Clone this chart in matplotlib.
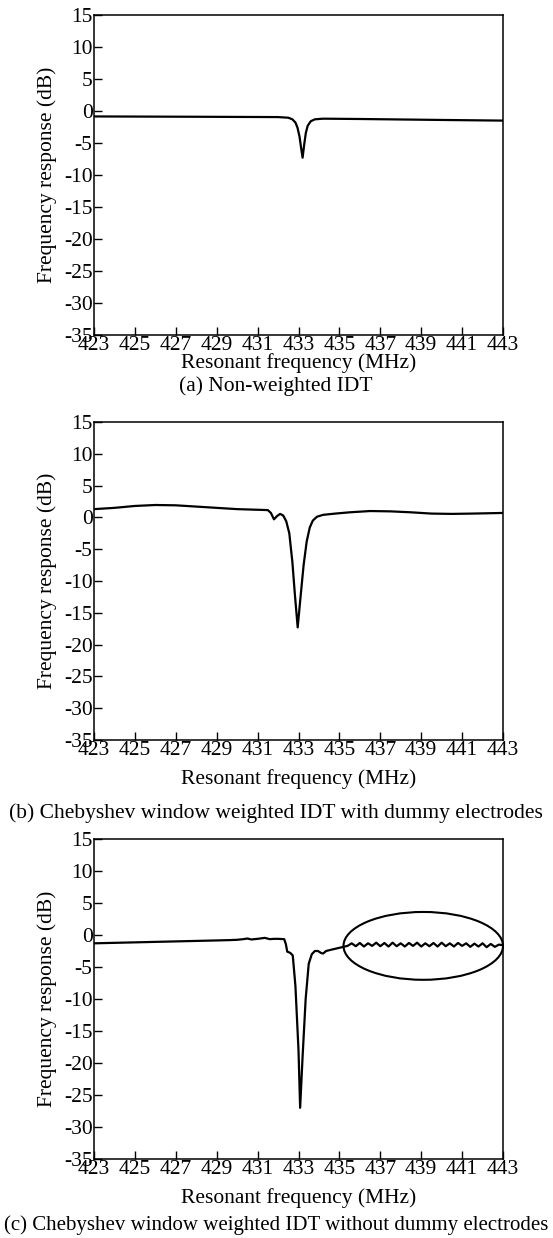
import numpy as np
import matplotlib
matplotlib.use("Agg")
import matplotlib.pyplot as plt
from matplotlib.patches import Ellipse

plt.rcParams['font.family'] = ['Liberation Serif', 'DejaVu Serif']
plt.rcParams['axes.unicode_minus'] = False

# (a) non-weighted IDT
fa = [423, 428, 432, 432.5, 432.7, 432.85, 432.95, 433.05, 433.12, 433.2,
      433.28, 433.36, 433.45, 433.6, 433.8, 434.2, 436, 440, 443]
ra = [-0.85, -0.9, -0.95, -1.05, -1.3, -1.8, -2.6, -4.0, -5.6, -7.3,
      -5.2, -3.4, -2.3, -1.6, -1.3, -1.2, -1.25, -1.4, -1.5]

# (b) Chebyshev, with dummy electrodes
fb = [423, 424, 425, 426, 427, 428, 429, 430, 431, 431.5, 431.65, 431.8,
      431.95, 432.1, 432.25, 432.4, 432.55, 432.7, 432.82, 432.96, 433.1,
      433.25, 433.4, 433.55, 433.7, 433.9, 434.2, 434.8, 435.5, 436.5,
      437.5, 438.5, 439.5, 440.5, 441.5, 443]
rb = [1.3, 1.5, 1.8, 1.95, 1.9, 1.7, 1.5, 1.3, 1.2, 1.15, 0.7, -0.3,
      0.2, 0.55, 0.3, -0.6, -2.5, -7.0, -12.0, -17.3, -12.5,
      -7.5, -3.8, -1.6, -0.5, 0.1, 0.4, 0.6, 0.8, 1.0,
      0.95, 0.8, 0.6, 0.55, 0.6, 0.7]

# (c) Chebyshev, without dummy electrodes
fc = [423, 425, 427, 429, 429.6, 430.0, 430.3, 430.5, 430.7, 431.0,
      431.35, 431.6, 431.8, 432.0, 432.3, 432.38, 432.45, 432.6, 432.72,
      432.85, 433.0, 433.08, 433.2, 433.35, 433.5, 433.65, 433.8, 433.95,
      434.1, 434.2, 434.35, 434.6, 435.0, 435.4]
rc = [-1.3, -1.15, -1.0, -0.85, -0.8, -0.75, -0.65, -0.55, -0.7, -0.6,
      -0.45, -0.65, -0.6, -0.6, -0.65, -1.4, -2.6, -2.8, -3.2,
      -8.0, -18.0, -27.0, -19.0, -10.0, -4.5, -3.0, -2.5, -2.5,
      -2.8, -2.9, -2.5, -2.3, -2.0, -1.7]
fc_ripple = [435.6, 435.8, 436.0, 436.2, 436.4, 436.6, 436.8, 437.0, 437.2,
             437.4, 437.6, 437.8, 438.0, 438.2, 438.4, 438.6, 438.8, 439.0,
             439.2, 439.4, 439.6, 439.8, 440.0, 440.2, 440.4, 440.6, 440.8,
             441.0, 441.2, 441.4, 441.6, 441.8, 442.0, 442.2, 442.4, 442.6,
             442.8, 443.0]
rc_ripple = [-1.3, -1.75, -1.25, -1.8, -1.3, -1.7, -1.2, -1.75, -1.25,
             -1.8, -1.2, -1.75, -1.3, -1.8, -1.25, -1.7, -1.2, -1.8,
             -1.3, -1.75, -1.25, -1.8, -1.2, -1.75, -1.3, -1.8, -1.25,
             -1.7, -1.3, -1.85, -1.35, -1.8, -1.3, -1.9, -1.4, -1.85,
             -1.5, -1.6]

xticks = [423, 425, 427, 429, 431, 433, 435, 437, 439, 441, 443]
yticks = [-35, -30, -25, -20, -15, -10, -5, 0, 5, 10, 15]
captions = ["(a) Non-weighted IDT",
            "(b) Chebyshev window weighted IDT with dummy electrodes",
            "(c) Chebyshev window weighted IDT without dummy electrodes"]

W, H = 553, 1238
fig = plt.figure(figsize=(W / 100, H / 100), dpi=100)

# pixel boxes: (top, bottom) of each axes, and y of xlabel / caption centres
boxes = [(15, 335, 363, 386), (422, 740, 779, 813), (839, 1159, 1198, 1225)]
left, right = 94, 503

fx = [fa, fb, fc + fc_ripple]
ry = [ra, rb, rc + rc_ripple]

for i, (top, bot, ylab, ycap) in enumerate(boxes):
    ax = fig.add_axes([left / W, 1 - bot / H, (right - left) / W, (bot - top) / H])
    ax.plot(fx[i], ry[i], color='black', lw=1.6)
    ax.set_xlim(423, 443)
    ax.set_ylim(-35, 15)
    ax.set_xticks(xticks)
    ax.set_yticks(yticks)
    ax.tick_params(direction='in', length=6, width=1, labelsize=15.5, pad=1)
    for s in ax.spines.values():
        s.set_linewidth(1.1)
    ax.set_ylabel("Frequency response (dB)", fontsize=15.5)
    ax.yaxis.set_label_coords(-0.09, 0.5)
    fig.text((left + right) / 2 / W, 1 - ylab / H, "Resonant frequency (MHz)",
             ha='center', va='center', fontsize=15.5)
    fig.text(276 / W, 1 - ycap / H, captions[i], ha='center', va='center',
             fontsize=15.5 if i < 2 else 15)
    if i == 2:
        ax.add_patch(Ellipse((439.1, -1.7), 7.8, 10.6, fill=False,
                             edgecolor='black', lw=1.5, clip_on=False))

fig.savefig("out.png", dpi=100)
